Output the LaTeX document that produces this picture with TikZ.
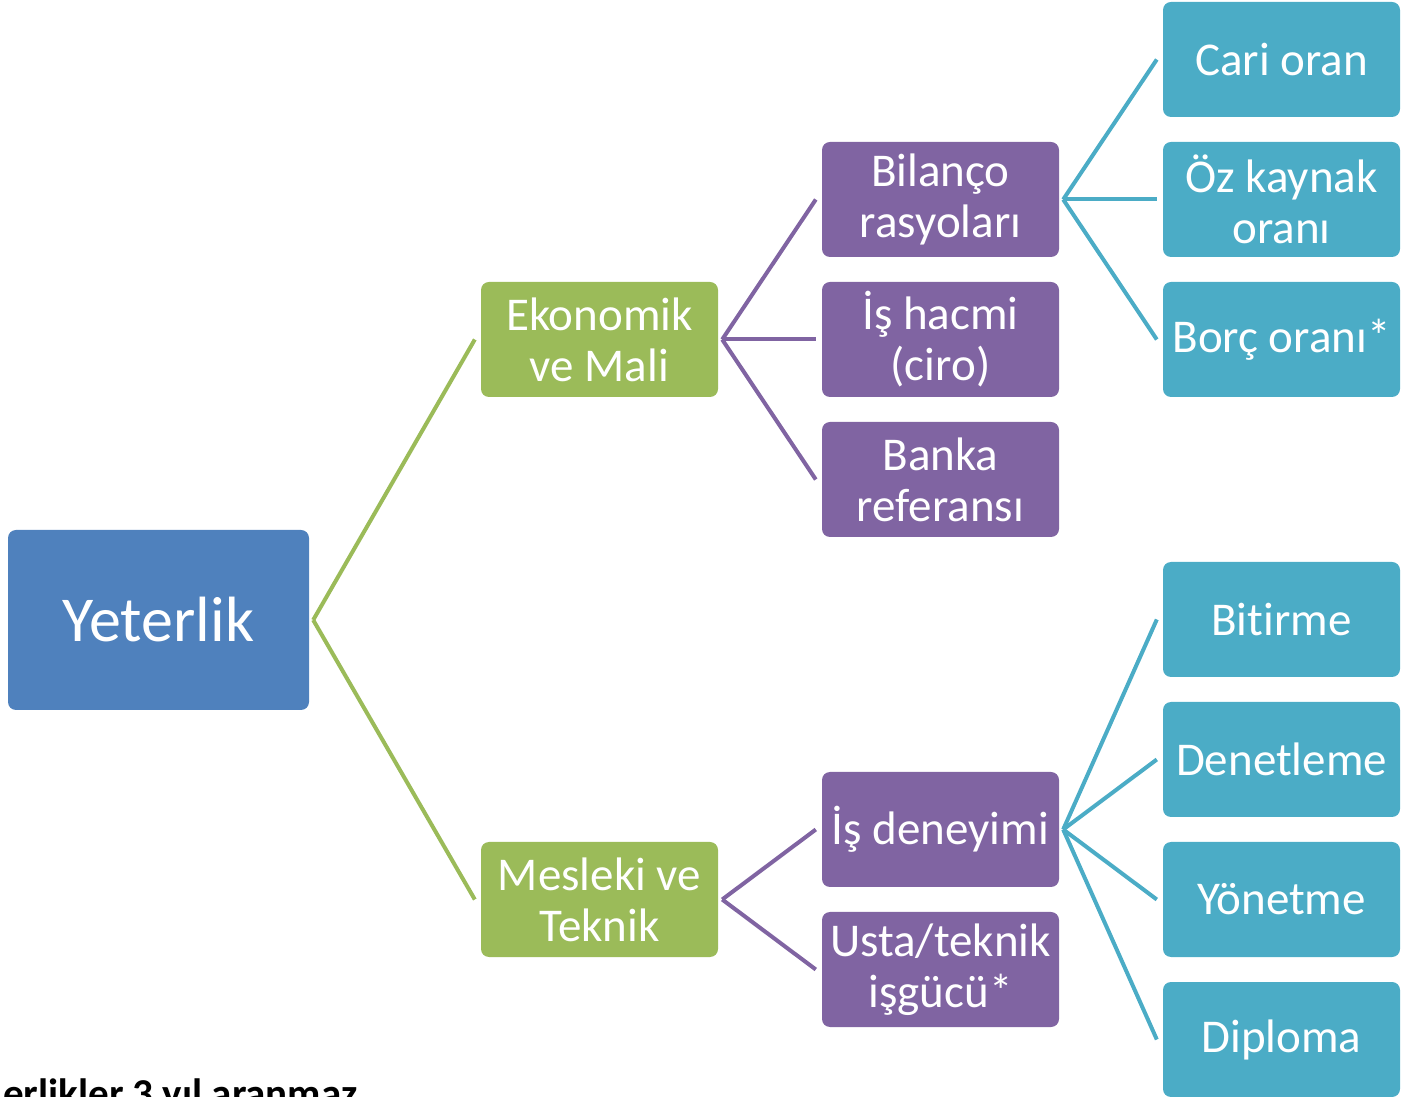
\documentclass[tikz,border=0pt]{standalone}
\usepackage{fontspec}
\setmainfont{Carlito}[Ligatures=NoCommon]
\usetikzlibrary{calc}
\definecolor{cblue}{HTML}{4F81BD}
\definecolor{cgreen}{HTML}{9BBB59}
\definecolor{cpurple}{HTML}{8064A2}
\definecolor{cteal}{HTML}{4BACC6}
\tikzset{
  box/.style={rectangle, rounded corners=8pt, minimum width=237pt, minimum height=115pt,
    inner sep=0pt, align=center, text=white, font=\fontsize{47}{51}\selectfont},
  rootbox/.style={box, fill=cblue, minimum width=301pt, minimum height=180pt, font=\fontsize{64}{70}\selectfont},
  lvone/.style={box, fill=cgreen},
  lvtwo/.style={box, fill=cpurple},
  lvthree/.style={box, fill=cteal},
  conn/.style={line width=4pt},
}
\begin{document}
\begin{tikzpicture}[x=1pt,y=1pt]
\useasboundingbox (0,0) rectangle (1401,1096);
\clip (0,0) rectangle (1401,1096);
\node[rootbox] (Y) at (158.5,476) {Yeterlik};
\node[lvone] (E) at (599.5,756.5) {Ekonomik\\ve Mali};
\node[lvone] (M) at (599.5,196.5) {Mesleki ve\\Teknik};
\node[lvtwo] (B) at (940.5,896.5) {Bilanço\\rasyoları};
\node[lvtwo] (IH) at (940.5,756.5) {İş hacmi\\(ciro)};
\node[lvtwo] (BR) at (940.5,616.5) {Banka\\referansı};
\node[lvtwo] (ID) at (940.5,266.5) {İş deneyimi};
\node[lvtwo] (UT) at (940.5,126.5) {Usta/teknik\\işgücü*};
\node[lvthree] (CO) at (1281.5,1036.5) {Cari oran};
\node[lvthree] (OK) at (1281.5,896.5) {Öz kaynak\\oranı};
\node[lvthree] (BO) at (1281.5,756.5) {Borç oranı*};
\node[lvthree] (BI) at (1281.5,476.5) {Bitirme};
\node[lvthree] (DE) at (1281.5,336.5) {Denetleme};
\node[lvthree] (YO) at (1281.5,196.5) {Yönetme};
\node[lvthree] (DI) at (1281.5,56.5) {Diploma};
% connectors
\foreach \c in {E,M}
  \draw[conn,cgreen] ($(Y.east)+(4,0)$) -- ($(\c.west)+(-6,0)$);
\foreach \c in {B,IH,BR}
  \draw[conn,cpurple] ($(E.east)+(4,0)$) -- ($(\c.west)+(-6,0)$);
\foreach \c in {ID,UT}
  \draw[conn,cpurple] ($(M.east)+(4,0)$) -- ($(\c.west)+(-6,0)$);
\foreach \c in {CO,OK,BO}
  \draw[conn,cteal] ($(B.east)+(4,0)$) -- ($(\c.west)+(-6,0)$);
\foreach \c in {BI,DE,YO,DI}
  \draw[conn,cteal] ($(ID.east)+(4,0)$) -- ($(\c.west)+(-6,0)$);
\node[anchor=base east, inner sep=0pt, font=\bfseries\fontsize{41}{45}\selectfont] (note) at (358,-11) {erlikler 3 yıl aranmaz};
\end{tikzpicture}
\end{document}
